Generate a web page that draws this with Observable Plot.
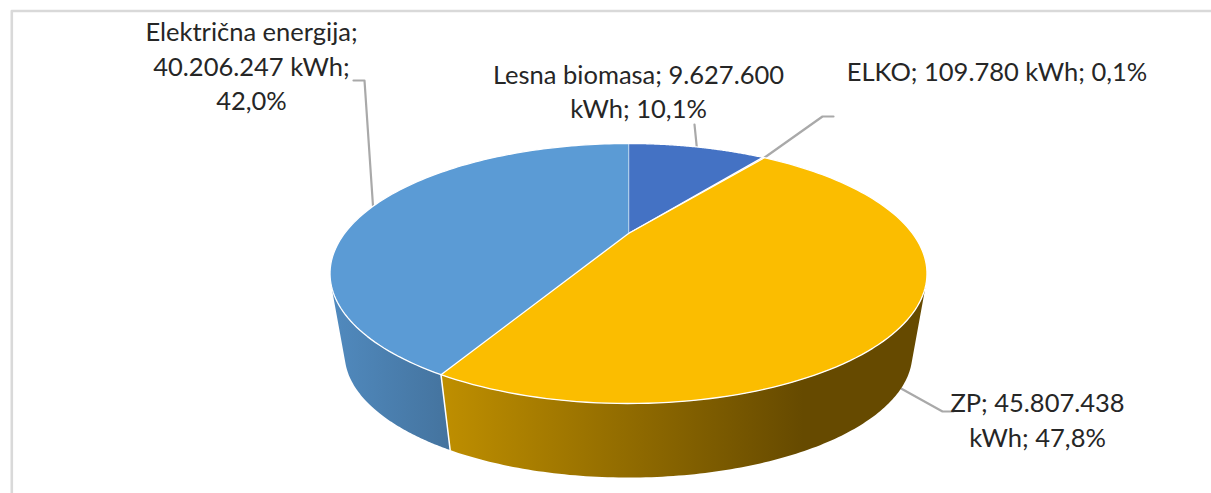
<!DOCTYPE html>
<html><head><meta charset="utf-8">
<script src="https://cdn.jsdelivr.net/npm/d3@7"></script>
<script src="https://cdn.jsdelivr.net/npm/@observablehq/plot@0.6"></script>
<style>html,body{margin:0;padding:0;background:#fff}svg{display:block}</style>
</head><body><div id="chart"></div>
<script>
const categories = ["Lesna biomasa", "ELKO", "ZP", "Električna energija"];
const kWh = [9627600, 109780, 45807438, 40206247];
const labels = [
  "Lesna biomasa; 9.627.600\nkWh; 10,1%",
  "ELKO; 109.780 kWh; 0,1%",
  "ZP; 45.807.438\nkWh; 47,8%",
  "Električna energija;\n40.206.247 kWh;\n42,0%"
];
const sliceColors = ["#4472c4", "#ed7d31", "#fbbd00", "#5b9bd5"];

// Perspective view of the disc
const view = {cx: 628, cy: 233, a: 284, b: 117.7, k: 0.3077, vanishY: 1914, floor: 0.951};
const project = (deg) => {
  const r = deg * Math.PI / 180, u = Math.sin(r), v = Math.cos(r), w = 1 + view.k * v;
  return [view.cx + view.a * u / w, view.cy - view.b * v / w];
};
const lower = ([x, y]) => [view.cx + view.floor * (x - view.cx), view.vanishY - view.floor * (view.vanishY - y)];
const total = d3.sum(kWh);
const cum = d3.cumsum(kWh);
const slices = categories.map((name, i) => ({
  name, i, start: (i ? cum[i - 1] : 0) / total * 360, end: cum[i] / total * 360
}));
slices.forEach(s => s.mid = (s.start + s.end) / 2);
const arc = (a0, a1) => d3.range(0, 121).map(j => a0 + (a1 - a0) * j / 120);

// Where the side wall's outline leaves the rim: the rim tangent points at the vanishing point
const silhouette = (from, to) => {
  const turn = (a) => {
    const p = project(a), q = project(a + 0.01);
    return (q[0] - p[0]) * (view.vanishY - p[1]) - (q[1] - p[1]) * (view.cx - p[0]);
  };
  const s0 = Math.sign(turn(from));
  return d3.range(from, to, 0.1).find(a => Math.sign(turn(a)) !== s0) ?? to;
};
const rightEdge = silhouette(40, 180);
const leftEdge = silhouette(210, 355);

const topRows = slices.flatMap(s => [
  {x: view.cx, y: view.cy, name: s.name},
  ...arc(s.start, s.end).map(a => { const p = project(a); return {x: p[0], y: p[1], name: s.name}; })
]);
const wallRows = (a0, a1) => [
  ...arc(a0, a1).map(a => { const p = project(a); return {x: p[0], y: p[1]}; }),
  ...arc(a1, a0).map(a => { const p = lower(project(a)); return {x: p[0], y: p[1]}; })
];
const zp = slices[2], el = slices[3];
const divider = [project(zp.end), lower(project(zp.end))];

// Leader lines run from label elbow to the slice's mid angle
const leader = (i, lead) => {
  const s = slices[i];
  let end = project(s.mid);
  if (i === 1) end = project(s.end);
  if (i === 2) end = lower(end);
  return [...lead, end].map(p => ({x: p[0], y: p[1], i}));
};
const leaders = [
  leader(0, [[694, 124]]),
  leader(1, [[833, 116], [822, 116]]),
  leader(2, [[953, 411], [942, 411]]),
  leader(3, [[353, 80], [364, 80]])
].flat();
const labelRows = [
  {t: labels[0], x: 638, y: 89.5},
  {t: labels[1], x: 996.5, y: 69},
  {t: labels[2], x: 1037, y: 418},
  {t: labels[3], x: 251, y: 64}
];

const gradients = (index, scales) => {
  const defs = d3.create("svg:defs");
  const add = (id, x1, x2, stops) => {
    const g = defs.append("linearGradient").attr("id", id).attr("gradientUnits", "userSpaceOnUse")
      .attr("x1", scales.x(x1)).attr("x2", scales.x(x2)).attr("y1", 0).attr("y2", 0);
    stops.forEach(([o, c]) => g.append("stop").attr("offset", o).attr("stop-color", c));
  };
  add("wallZP", 440, 905, [[0, "#bf8f00"], [0.78, "#664a00"], [1, "#664a00"]]);
  add("wallEl", 335, 450, [[0, "#5089bd"], [1, "#44739e"]]);
  return defs.node();
};

const plot = Plot.plot({
  width: 1211, height: 493,
  margin: 0,
  x: {domain: [0, 1211], range: [0, 1211], axis: null},
  y: {domain: [0, 493], range: [0, 493], axis: null},
  style: {background: "#fff", fontFamily: "Lato, sans-serif"},
  marks: [
    gradients,
    Plot.line([{x: 11.3, y: 493}, {x: 11.3, y: 10.5}, {x: 1211, y: 10.5}], {x: "x", y: "y", stroke: "#d9d9d9", strokeWidth: 2.6}),
    Plot.line(leaders, {x: "x", y: "y", z: "i", stroke: "#a9a9a9", strokeWidth: 2.2, curve: "linear"}),
    Plot.line(wallRows(zp.end, leftEdge), {x: "x", y: "y", fill: "url(#wallEl)", stroke: "none"}),
    Plot.line(wallRows(rightEdge, zp.end), {x: "x", y: "y", fill: "url(#wallZP)", stroke: "none"}),
    Plot.line(divider.map(p => ({x: p[0], y: p[1]})), {x: "x", y: "y", stroke: "#fff", strokeWidth: 1.5}),
    ...slices.map(s => Plot.line(topRows.filter(d => d.name === s.name), {
      x: "x", y: "y", fill: sliceColors[s.i], stroke: "#fff", strokeWidth: 1.3, strokeLinejoin: "round"
    })),
    Plot.text(labelRows, {
      x: "x", y: "y", text: "t", fontSize: 25.5, lineHeight: 1.35, fill: "#262626",
      textAnchor: "middle", lineAnchor: "middle"
    })
  ]
});
document.getElementById("chart").append(plot);
</script>
</body></html>
